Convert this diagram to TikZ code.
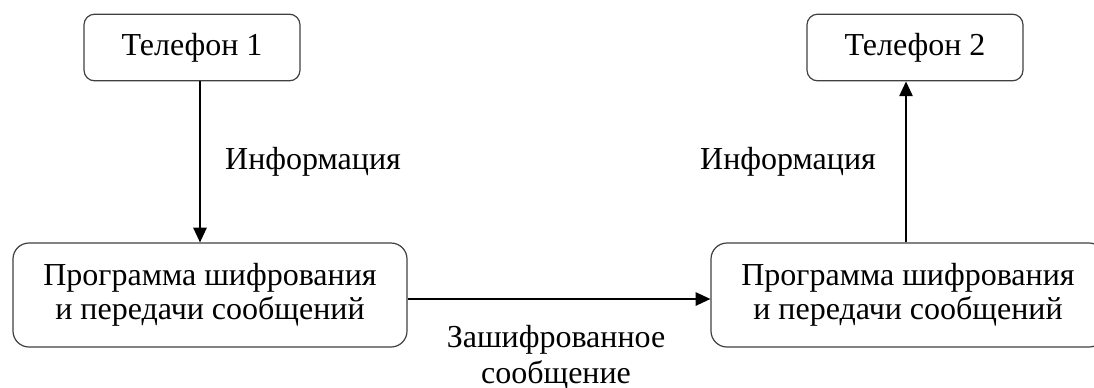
\documentclass[tikz,border=0pt]{standalone}
\usepackage{fontspec}
\IfFontExistsTF{LiberationSerif-Regular.ttf}
  {\setmainfont{LiberationSerif}[Extension=.ttf, UprightFont=*-Regular, BoldFont=*-Bold, ItalicFont=*-Italic, BoldItalicFont=*-BoldItalic]}
  {\setmainfont{Liberation Serif}}
\usetikzlibrary{arrows.meta,positioning}

\begin{document}
\begin{tikzpicture}[x=0.75pt,y=-0.75pt,
  phonebox/.style={draw=black!75, line width=0.9pt, rounded corners=8pt, minimum width=162pt, minimum height=50pt, font=\fontsize{24}{28}\selectfont},
  progbox/.style={draw=black!75, line width=0.9pt, rounded corners=12pt, minimum width=295.5pt, minimum height=78pt, align=center, font=\fontsize{24}{25.5}\selectfont},
  flow/.style={-{Triangle[length=11pt,width=10pt]}, line width=1.1pt},
  lbl/.style={align=center, inner sep=0pt, font=\fontsize{24}{27.2}\selectfont}]
\useasboundingbox (0,0) rectangle (1094,387);
\node[phonebox] (tel1) at (192,47.5) {Телефон 1};
\node[phonebox] (tel2) at (915,47.5) {Телефон 2};
\node[progbox] (prog1) at (210,295) {Программа шифрования\\и передачи сообщений};
\node[progbox] (prog2) at (908,295) {Программа шифрования\\и передачи сообщений};
\node[lbl] (info1) at (313,162) {Информация};
\node[lbl] (info2) at (788,162) {Информация};
\node[lbl] (cipher) at (556,358) {Зашифрованное\\сообщение};
\draw[flow] (tel1.south -| 200,0) -- (prog1.north -| 200,0);
\draw[flow] (prog2.north -| 906,0) -- (tel2.south -| 906,0);
\draw[flow] (prog1.east |- 0,299) -- (prog2.west |- 0,299);
%\draw[flow] (prog1) -- (prog2);
\end{tikzpicture}
\end{document}
